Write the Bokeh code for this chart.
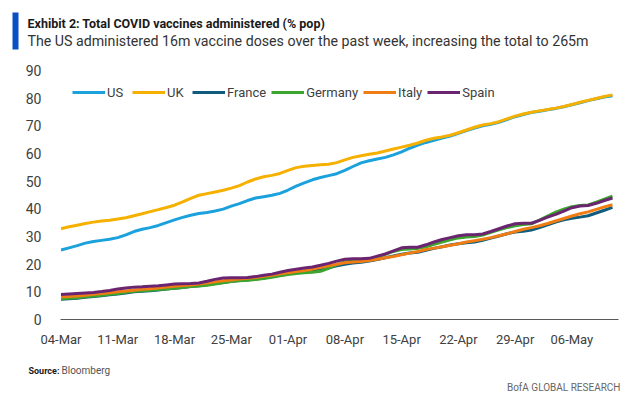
from bokeh.plotting import figure
from bokeh.models import Range1d, FixedTicker, Label, BoxAnnotation, Legend, LegendItem
from bokeh.layouts import column
from bokeh.embed import file_html
from bokeh.resources import INLINE

# ---- data (daily, 04-Mar .. 11-May, % of population) ----
us = [25.1, 25.9, 26.7, 27.6, 28.2, 28.6, 29.0, 29.6, 30.6, 31.8, 32.6, 33.2, 34.0, 35.0,
      36.0, 36.9, 37.7, 38.3, 38.7, 39.2, 39.9, 41.0, 41.9, 43.0, 43.9, 44.4, 44.9, 45.6,
      46.8, 48.2, 49.4, 50.5, 51.3, 52.0, 52.7, 53.9, 55.3, 56.6, 57.4, 58.0, 58.6, 59.5,
      60.6, 61.9, 63.0, 64.0, 64.8, 65.6, 66.3, 67.3, 68.3, 69.2, 70.0, 70.6, 71.3, 72.3,
      73.3, 74.1, 74.8, 75.3, 75.8, 76.3, 76.9, 77.6, 78.3, 79.1, 79.8, 80.4, 80.9]
uk = [32.8, 33.5, 34.1, 34.7, 35.2, 35.6, 35.9, 36.3, 36.8, 37.5, 38.2, 39.0, 39.7, 40.5,
      41.3, 42.5, 43.8, 44.9, 45.5, 46.1, 46.7, 47.5, 48.4, 49.7, 50.8, 51.6, 52.1, 52.8,
      53.9, 54.9, 55.4, 55.7, 55.9, 56.1, 56.7, 57.7, 58.6, 59.2, 59.7, 60.2, 60.9, 61.6,
      62.3, 63.0, 63.8, 64.8, 65.5, 66.0, 66.6, 67.5, 68.5, 69.5, 70.3, 70.8, 71.5, 72.5,
      73.5, 74.3, 74.9, 75.4, 75.9, 76.4, 77.0, 77.7, 78.5, 79.2, 79.9, 80.6, 81.2]
france = [7.3, 7.5, 7.7, 8.0, 8.3, 8.6, 8.9, 9.2, 9.6, 10.0, 10.2, 10.4, 10.7, 11.0,
          11.3, 11.6, 11.9, 12.2, 12.6, 13.0, 13.4, 13.8, 14.1, 14.3, 14.6, 15.0, 15.5, 16.0,
          16.5, 16.9, 17.2, 17.6, 18.1, 18.7, 19.4, 20.0, 20.4, 20.7, 21.1, 21.7, 22.3, 23.0,
          23.6, 24.0, 24.3, 25.0, 25.7, 26.3, 26.9, 27.4, 27.7, 28.0, 28.6, 29.4, 30.2, 31.0,
          31.6, 31.9, 32.3, 33.2, 34.2, 35.2, 36.0, 36.6, 37.0, 37.5, 38.5, 39.5, 40.5]
germany = [7.5, 7.7, 7.9, 8.2, 8.5, 8.8, 9.1, 9.4, 9.8, 10.2, 10.4, 10.6, 10.8, 11.0,
           11.3, 11.6, 11.9, 12.1, 12.4, 12.8, 13.3, 13.7, 14.0, 14.2, 14.5, 14.8, 15.3, 15.8,
           16.3, 16.6, 16.9, 17.1, 17.4, 18.5, 19.8, 20.8, 21.3, 21.5, 21.8, 22.6, 23.6, 24.6,
           25.3, 25.5, 25.7, 26.3, 27.2, 28.0, 28.8, 29.5, 29.8, 30.0, 30.5, 31.5, 32.4, 33.2,
           33.9, 34.3, 34.6, 35.9, 37.4, 38.8, 39.9, 40.8, 41.2, 41.4, 42.4, 43.5, 44.6]
italy = [8.1, 8.3, 8.5, 8.8, 9.1, 9.4, 9.7, 10.0, 10.3, 10.6, 10.9, 11.1, 11.4, 11.7,
         12.0, 12.3, 12.5, 12.8, 13.2, 13.6, 14.0, 14.3, 14.6, 14.9, 15.2, 15.6, 16.0, 16.5,
         16.9, 17.3, 17.7, 18.2, 18.8, 19.4, 20.0, 20.5, 20.8, 21.0, 21.3, 21.8, 22.3, 22.8,
         23.4, 24.0, 24.6, 25.3, 25.8, 26.3, 26.8, 27.4, 28.0, 28.5, 29.0, 29.6, 30.3, 31.0,
         31.8, 32.6, 33.2, 33.9, 34.7, 35.6, 36.5, 37.4, 38.2, 38.9, 39.8, 40.7, 41.5]
spain = [9.0, 9.2, 9.4, 9.6, 9.8, 10.1, 10.5, 11.0, 11.4, 11.7, 11.8, 12.0, 12.2, 12.5,
         12.8, 12.9, 13.0, 13.2, 13.8, 14.5, 15.0, 15.1, 15.1, 15.2, 15.5, 16.0, 16.4, 17.1,
         17.7, 18.2, 18.6, 19.0, 19.6, 20.3, 21.1, 21.8, 22.0, 22.0, 22.1, 22.9, 23.7, 24.8,
         25.9, 26.1, 26.1, 27.0, 28.0, 28.9, 29.6, 30.3, 30.6, 30.6, 30.9, 31.8, 32.8, 33.8,
         34.6, 34.8, 34.8, 35.8, 37.0, 38.0, 39.2, 40.4, 41.0, 41.2, 42.0, 43.0, 43.9]

series_names = ["US", "UK", "France", "Germany", "Italy", "Spain"]
series_values = [us, uk, france, germany, italy, spain]
series_colors = ["#1ba1dc", "#f5b000", "#0f5c7c", "#3ca52e", "#f07d14", "#6b2470"]

tick_labels = ["04-Mar", "11-Mar", "18-Mar", "25-Mar", "01-Apr",
               "08-Apr", "15-Apr", "22-Apr", "29-Apr", "06-May"]
y_ticks = [0, 10, 20, 30, 40, 50, 60, 70, 80, 90]

title_text = "Exhibit 2: Total COVID vaccines administered (% pop)"
subtitle_text = "The US administered 16m vaccine doses over the past week, increasing the total to 265m"

days = list(range(len(us)))
tick_days = [7 * i for i in range(len(tick_labels))]

FONT = "Roboto"
TXT = "#404040"
W = 635


def blank(h):
    f = figure(width=W, height=h, output_backend="svg", toolbar_location=None,
               x_range=Range1d(0, 1), y_range=Range1d(0, 1),
               x_axis_location=None, y_axis_location=None,
               min_border=0, min_border_left=0, min_border_right=0,
               min_border_top=0, min_border_bottom=0)
    f.frame_align = False
    f.outline_line_color = None
    f.grid.visible = False
    f.background_fill_color = "white"
    f.border_fill_color = "white"
    return f


# ---- header ----
head = blank(58)
head.add_layout(BoxAnnotation(left=12, right=18, top=12, bottom=49,
                              left_units="canvas", right_units="canvas",
                              top_units="canvas", bottom_units="canvas",
                              fill_color="#0b4fc6", fill_alpha=1, line_color=None))
head.add_layout(Label(x=27, y=23, x_units="canvas", y_units="canvas", text=title_text,
                      text_font=FONT, text_font_style="bold", text_font_size="12.5px",
                      text_color="#1a1a1a", text_baseline="middle"))
head.add_layout(Label(x=27, y=40, x_units="canvas", y_units="canvas", text=subtitle_text,
                      text_font=FONT, text_font_size="14.2px",
                      text_color="#333333", text_baseline="middle"))

# ---- main chart: frame x 60..618, page y 70..319 (figure starts at page y 58) ----
p = figure(width=W, height=292, output_backend="svg", toolbar_location=None,
           x_range=Range1d(-0.06, -0.06 + 558 / 8.11), y_range=Range1d(0, 90),
           min_border_left=60, min_border_right=17, min_border_top=12, min_border_bottom=31)
p.frame_align = False
p.outline_line_color = None
p.grid.visible = False
p.background_fill_color = "white"
p.border_fill_color = "white"

items = []
for name, vals, col in zip(series_names, series_values, series_colors):
    r = p.line(days, vals, line_color=col, line_width=3)
    items.append(LegendItem(label=name, renderers=[r]))

legend = Legend(items=items, orientation="horizontal", location=(12, 217),
                glyph_width=33, glyph_height=20, label_height=20, label_standoff=2,
                spacing=5, padding=0, margin=0,
                background_fill_alpha=0, border_line_color=None,
                label_text_font=FONT, label_text_font_size="13px", label_text_color=TXT)
p.add_layout(legend)

xa = p.xaxis[0]
xa.ticker = FixedTicker(ticks=tick_days)
xa.major_label_overrides = {d: lab for d, lab in zip(tick_days, tick_labels)}
xa.axis_line_color = "#595959"
xa.axis_line_width = 1
xa.major_tick_line_color = None
xa.minor_tick_line_color = None
xa.major_label_standoff = 6
xa.major_label_text_font = FONT
xa.major_label_text_font_size = "13px"
xa.major_label_text_color = TXT

ya = p.yaxis[0]
ya.ticker = FixedTicker(ticks=y_ticks)
ya.axis_line_color = None
ya.major_tick_line_color = None
ya.minor_tick_line_color = None
ya.major_label_standoff = 13
ya.major_label_text_font = FONT
ya.major_label_text_font_size = "14px"
ya.major_label_text_color = TXT

# ---- footer (page y 350..395) ----
foot = blank(45)
foot.add_layout(Label(x=28, y=20, x_units="canvas", y_units="canvas", text="Source:",
                      text_font=FONT, text_font_style="bold", text_font_size="9px",
                      text_color="#1a1a1a", text_baseline="middle"))
foot.add_layout(Label(x=61, y=20, x_units="canvas", y_units="canvas", text="Bloomberg",
                      text_font=FONT, text_font_size="10px",
                      text_color="#555555", text_baseline="middle"))
foot.add_layout(Label(x=620, y=37, x_units="canvas", y_units="canvas",
                      text="BofA GLOBAL RESEARCH", text_align="right",
                      text_font=FONT, text_font_size="10px",
                      text_color="#666666", text_baseline="middle"))

layout = column(head, p, foot, spacing=0)
open("out.html", "w").write(file_html(layout, INLINE))
